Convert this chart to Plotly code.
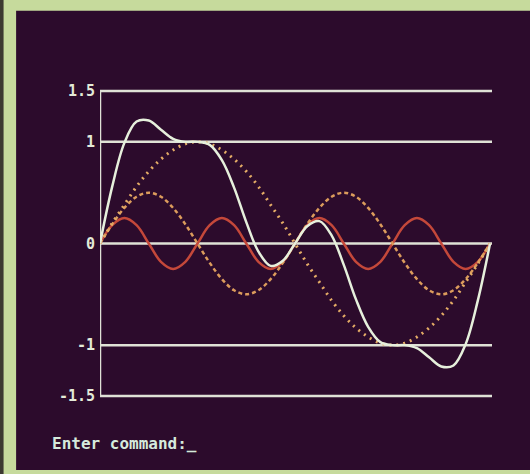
import plotly.graph_objects as go

# sample positions (degrees of the fundamental)
angle_deg = [0, 11.25, 22.5, 33.75, 45, 56.25, 67.5, 78.75, 90, 101.25, 112.5, 123.75,
             135, 146.25, 157.5, 168.75, 180, 191.25, 202.5, 213.75, 225, 236.25, 247.5,
             258.75, 270, 281.25, 292.5, 303.75, 315, 326.25, 337.5, 348.75, 360]

# dotted curve (fundamental)
fundamental = [0, 0.20, 0.38, 0.56, 0.71, 0.83, 0.92, 0.98, 1.00, 0.98, 0.92, 0.83,
               0.71, 0.56, 0.38, 0.20, 0, -0.20, -0.38, -0.56, -0.71, -0.83, -0.92,
               -0.98, -1.00, -0.98, -0.92, -0.83, -0.71, -0.56, -0.38, -0.20, 0]

# dashed curve (second harmonic)
second = [0, 0.19, 0.35, 0.46, 0.50, 0.46, 0.35, 0.19, 0, -0.19, -0.35, -0.46,
          -0.50, -0.46, -0.35, -0.19, 0, 0.19, 0.35, 0.46, 0.50, 0.46, 0.35,
          0.19, 0, -0.19, -0.35, -0.46, -0.50, -0.46, -0.35, -0.19, 0]

# red curve (fourth harmonic)
fourth = [0, 0.18, 0.25, 0.18, 0, -0.18, -0.25, -0.18, 0, 0.18, 0.25, 0.18,
          0, -0.18, -0.25, -0.18, 0, 0.18, 0.25, 0.18, 0, -0.18, -0.25,
          -0.18, 0, 0.18, 0.25, 0.18, 0, -0.18, -0.25, -0.18, 0]

# white curve (sum)
total = [0, 0.56, 0.99, 1.20, 1.21, 1.12, 1.03, 1.00, 1.00, 0.97, 0.82, 0.55,
         0.21, -0.08, -0.22, -0.17, 0, 0.17, 0.22, 0.08, -0.21, -0.55, -0.82,
         -0.97, -1.00, -1.00, -1.03, -1.12, -1.21, -1.20, -0.99, -0.56, 0]

tick_vals = [1.5, 1, 0, -1, -1.5]
tick_text = ["1.5", "1", "0", "-1", "-1.5"]

BG = "#2c0b2c"
FRAME = "#c6da9c"
GRID = "#dfe2d6"

fig = go.Figure()
fig.add_trace(go.Scatter(x=angle_deg, y=fourth, mode="lines", line_shape="spline",
                         line=dict(color="#c4483a", width=2.5)))
fig.add_trace(go.Scatter(x=angle_deg, y=second, mode="lines", line_shape="spline",
                         line=dict(color="#dc9c5c", width=2.5, dash="4px,3px")))
fig.add_trace(go.Scatter(x=angle_deg, y=fundamental, mode="lines", line_shape="spline",
                         line=dict(color="#e4ac66", width=3, dash="2px,5px")))
fig.add_trace(go.Scatter(x=angle_deg, y=total, mode="lines", line_shape="spline",
                         line=dict(color="#e6f0dc", width=2.5)))

shapes = [
    dict(type="rect", xref="paper", yref="paper", x0=-0.214, x1=1.11, y0=-0.228, y1=1.248,
         fillcolor=BG, line=dict(width=0), layer="below"),
    dict(type="rect", xref="paper", yref="paper", x0=-0.26, x1=-0.246, y0=-0.3, y1=1.3,
         fillcolor="#3c3a30", line=dict(width=0), layer="below"),
]
for v in tick_vals:
    shapes.append(dict(type="line", xref="x domain", yref="y", x0=0, x1=1, y0=v, y1=v,
                       line=dict(color=GRID, width=2.5), layer="below"))
shapes.append(dict(type="line", xref="x", yref="y", x0=0, x1=0, y0=-1.5, y1=1.5,
                   line=dict(color=GRID, width=2.5), layer="below"))

fig.update_layout(
    width=530, height=474,
    margin=dict(l=100, r=38, t=88, b=75),
    paper_bgcolor=FRAME, plot_bgcolor=BG,
    showlegend=False,
    shapes=shapes,
    xaxis=dict(range=[0, 361.8], showgrid=False, zeroline=False, showticklabels=False,
               showline=False, fixedrange=True),
    yaxis=dict(range=[-1.53, 1.53], showgrid=False, zeroline=False, tickmode="array",
               tickvals=tick_vals, ticktext=tick_text, ticks="", ticklabelstandoff=4,
               tickfont=dict(family="DejaVu Sans Mono", size=15, color="#e4ead8",
                             weight="bold"),
               showline=False, fixedrange=True),
    annotations=[dict(xref="paper", yref="paper", x=-0.128, y=-0.1415, xanchor="left",
                      yanchor="middle", showarrow=False, text="Enter command:_",
                      font=dict(family="DejaVu Sans Mono", size=16, color="#d6eadc",
                                weight="bold"))],
)

fig.write_html("out.html", config={"displayModeBar": False},
               post_script="document.body.style.margin='0';document.body.style.overflow='hidden';")
